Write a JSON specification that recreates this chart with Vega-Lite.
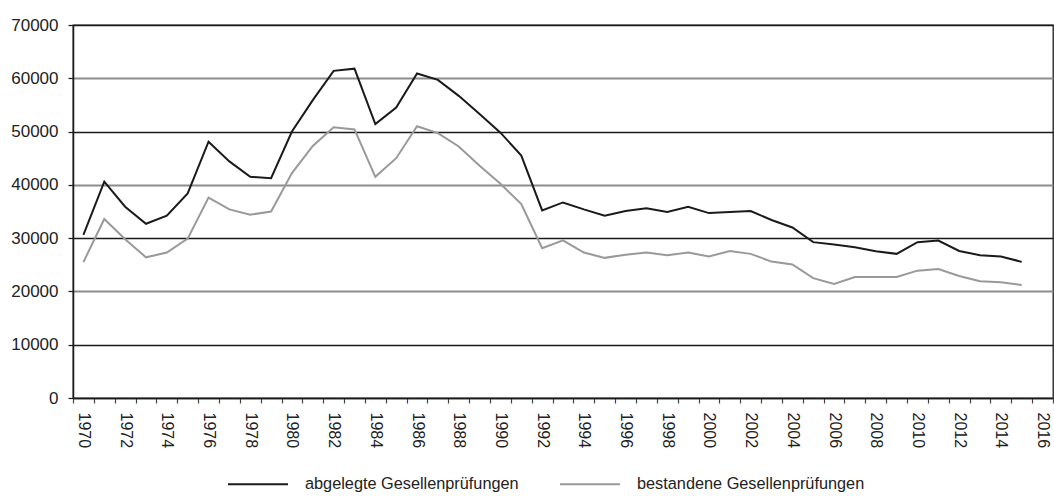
{
  "$schema": "https://vega.github.io/schema/vega-lite/v6.json",
  "width": 980,
  "height": 373,
  "autosize": {"type": "none"},
  "padding": {"left": 73, "top": 25, "right": 1, "bottom": 98},
  "background": "#ffffff",
  "config": {
    "view": {"stroke": "#1a1a1a", "strokeWidth": 1.3},
    "font": "Liberation Sans"
  },
  "data": {
    "values": [
      {"Jahr": 1970, "abgelegte Gesellenprüfungen": 30600, "bestandene Gesellenprüfungen": 25500},
      {"Jahr": 1971, "abgelegte Gesellenprüfungen": 40600, "bestandene Gesellenprüfungen": 33600},
      {"Jahr": 1972, "abgelegte Gesellenprüfungen": 35900, "bestandene Gesellenprüfungen": 29800},
      {"Jahr": 1973, "abgelegte Gesellenprüfungen": 32700, "bestandene Gesellenprüfungen": 26400},
      {"Jahr": 1974, "abgelegte Gesellenprüfungen": 34200, "bestandene Gesellenprüfungen": 27300},
      {"Jahr": 1975, "abgelegte Gesellenprüfungen": 38400, "bestandene Gesellenprüfungen": 29900},
      {"Jahr": 1976, "abgelegte Gesellenprüfungen": 48100, "bestandene Gesellenprüfungen": 37600},
      {"Jahr": 1977, "abgelegte Gesellenprüfungen": 44400, "bestandene Gesellenprüfungen": 35400},
      {"Jahr": 1978, "abgelegte Gesellenprüfungen": 41500, "bestandene Gesellenprüfungen": 34400},
      {"Jahr": 1979, "abgelegte Gesellenprüfungen": 41250, "bestandene Gesellenprüfungen": 35000},
      {"Jahr": 1980, "abgelegte Gesellenprüfungen": 50000, "bestandene Gesellenprüfungen": 42200},
      {"Jahr": 1981, "abgelegte Gesellenprüfungen": 55900, "bestandene Gesellenprüfungen": 47300},
      {"Jahr": 1982, "abgelegte Gesellenprüfungen": 61400, "bestandene Gesellenprüfungen": 50800},
      {"Jahr": 1983, "abgelegte Gesellenprüfungen": 61800, "bestandene Gesellenprüfungen": 50400},
      {"Jahr": 1984, "abgelegte Gesellenprüfungen": 51400, "bestandene Gesellenprüfungen": 41500},
      {"Jahr": 1985, "abgelegte Gesellenprüfungen": 54500, "bestandene Gesellenprüfungen": 45000},
      {"Jahr": 1986, "abgelegte Gesellenprüfungen": 60900, "bestandene Gesellenprüfungen": 51000},
      {"Jahr": 1987, "abgelegte Gesellenprüfungen": 59700, "bestandene Gesellenprüfungen": 49700},
      {"Jahr": 1988, "abgelegte Gesellenprüfungen": 56700, "bestandene Gesellenprüfungen": 47200},
      {"Jahr": 1989, "abgelegte Gesellenprüfungen": 53300, "bestandene Gesellenprüfungen": 43600},
      {"Jahr": 1990, "abgelegte Gesellenprüfungen": 49800, "bestandene Gesellenprüfungen": 40200},
      {"Jahr": 1991, "abgelegte Gesellenprüfungen": 45500, "bestandene Gesellenprüfungen": 36400},
      {"Jahr": 1992, "abgelegte Gesellenprüfungen": 35200, "bestandene Gesellenprüfungen": 28100},
      {"Jahr": 1993, "abgelegte Gesellenprüfungen": 36700, "bestandene Gesellenprüfungen": 29600},
      {"Jahr": 1994, "abgelegte Gesellenprüfungen": 35400, "bestandene Gesellenprüfungen": 27300},
      {"Jahr": 1995, "abgelegte Gesellenprüfungen": 34200, "bestandene Gesellenprüfungen": 26300},
      {"Jahr": 1996, "abgelegte Gesellenprüfungen": 35100, "bestandene Gesellenprüfungen": 26900},
      {"Jahr": 1997, "abgelegte Gesellenprüfungen": 35600, "bestandene Gesellenprüfungen": 27300},
      {"Jahr": 1998, "abgelegte Gesellenprüfungen": 34900, "bestandene Gesellenprüfungen": 26800},
      {"Jahr": 1999, "abgelegte Gesellenprüfungen": 35900, "bestandene Gesellenprüfungen": 27300},
      {"Jahr": 2000, "abgelegte Gesellenprüfungen": 34700, "bestandene Gesellenprüfungen": 26550},
      {"Jahr": 2001, "abgelegte Gesellenprüfungen": 34900, "bestandene Gesellenprüfungen": 27600},
      {"Jahr": 2002, "abgelegte Gesellenprüfungen": 35100, "bestandene Gesellenprüfungen": 27050},
      {"Jahr": 2003, "abgelegte Gesellenprüfungen": 33400, "bestandene Gesellenprüfungen": 25600},
      {"Jahr": 2004, "abgelegte Gesellenprüfungen": 32000, "bestandene Gesellenprüfungen": 25050},
      {"Jahr": 2005, "abgelegte Gesellenprüfungen": 29250, "bestandene Gesellenprüfungen": 22500},
      {"Jahr": 2006, "abgelegte Gesellenprüfungen": 28800, "bestandene Gesellenprüfungen": 21400},
      {"Jahr": 2007, "abgelegte Gesellenprüfungen": 28300, "bestandene Gesellenprüfungen": 22700},
      {"Jahr": 2008, "abgelegte Gesellenprüfungen": 27550, "bestandene Gesellenprüfungen": 22700},
      {"Jahr": 2009, "abgelegte Gesellenprüfungen": 27050, "bestandene Gesellenprüfungen": 22700},
      {"Jahr": 2010, "abgelegte Gesellenprüfungen": 29250, "bestandene Gesellenprüfungen": 23900},
      {"Jahr": 2011, "abgelegte Gesellenprüfungen": 29550, "bestandene Gesellenprüfungen": 24200},
      {"Jahr": 2012, "abgelegte Gesellenprüfungen": 27600, "bestandene Gesellenprüfungen": 22900},
      {"Jahr": 2013, "abgelegte Gesellenprüfungen": 26800, "bestandene Gesellenprüfungen": 21900},
      {"Jahr": 2014, "abgelegte Gesellenprüfungen": 26550, "bestandene Gesellenprüfungen": 21700},
      {"Jahr": 2015, "abgelegte Gesellenprüfungen": 25550, "bestandene Gesellenprüfungen": 21200}
    ]
  },
  "transform": [
    {"fold": ["abgelegte Gesellenprüfungen", "bestandene Gesellenprüfungen"], "as": ["Serie", "Anzahl"]}
  ],
  "mark": {"type": "line", "strokeWidth": 2, "strokeJoin": "miter"},
  "encoding": {
    "x": {
      "field": "Jahr",
      "type": "ordinal",
      "bandPosition": 0.5,
      "scale": {
        "type": "band",
        "paddingInner": 0,
        "paddingOuter": 0,
        "domain": [1970,1971,1972,1973,1974,1975,1976,1977,1978,1979,1980,1981,1982,1983,1984,1985,1986,1987,1988,1989,1990,1991,1992,1993,1994,1995,1996,1997,1998,1999,2000,2001,2002,2003,2004,2005,2006,2007,2008,2009,2010,2011,2012,2013,2014,2015,2016]
      },
      "axis": {
        "title": null,
        "tickBand": "extent",
        "labelAngle": 90,
        "labelAlign": "left",
        "labelBaseline": "middle",
        "labelPadding": 9,
        "labelFont": "Liberation Sans",
        "labelFontSize": 16,
        "labelColor": "#222222",
        "labelExpr": "datum.value % 2 === 0 ? datum.label : ''",
        "labelOverlap": false,
        "tickSize": 5,
        "tickColor": "#444444",
        "tickWidth": 1.2,
        "domainColor": "#1a1a1a",
        "domainWidth": 1.5,
        "grid": false
      }
    },
    "y": {
      "field": "Anzahl",
      "type": "quantitative",
      "scale": {"domain": [0, 70000], "nice": false},
      "axis": {
        "title": null,
        "values": [0, 10000, 20000, 30000, 40000, 50000, 60000, 70000],
        "format": "d",
        "labelFont": "Liberation Sans",
        "labelFontSize": 17,
        "labelColor": "#222222",
        "labelPadding": 10,
        "tickSize": 5,
        "tickColor": "#1a1a1a",
        "tickWidth": 1.2,
        "domainColor": "#1a1a1a",
        "domainWidth": 1.5,
        "grid": true,
        "gridColor": {"condition": {"test": "datum.value % 20000 === 0", "value": "#8c8c8c"}, "value": "#1a1a1a"},
        "gridWidth": {"condition": {"test": "datum.value % 20000 === 0", "value": 2}, "value": 1.3},
        "gridOpacity": 1
      }
    },
    "color": {
      "field": "Serie",
      "type": "nominal",
      "scale": {
        "domain": ["abgelegte Gesellenprüfungen", "bestandene Gesellenprüfungen"],
        "range": ["#1a1a1a", "#999999"]
      },
      "legend": {
        "title": null,
        "orient": "none",
        "direction": "horizontal",
        "legendX": 154,
        "legendY": 428,
        "symbolType": "stroke",
        "symbolSize": 3600,
        "symbolStrokeWidth": 2,
        "labelOffset": 16,
        "labelLimit": 400,
        "columnPadding": 37,
        "labelFont": "Liberation Sans",
        "labelFontSize": 16.3,
        "labelColor": "#222222"
      }
    }
  }
}
